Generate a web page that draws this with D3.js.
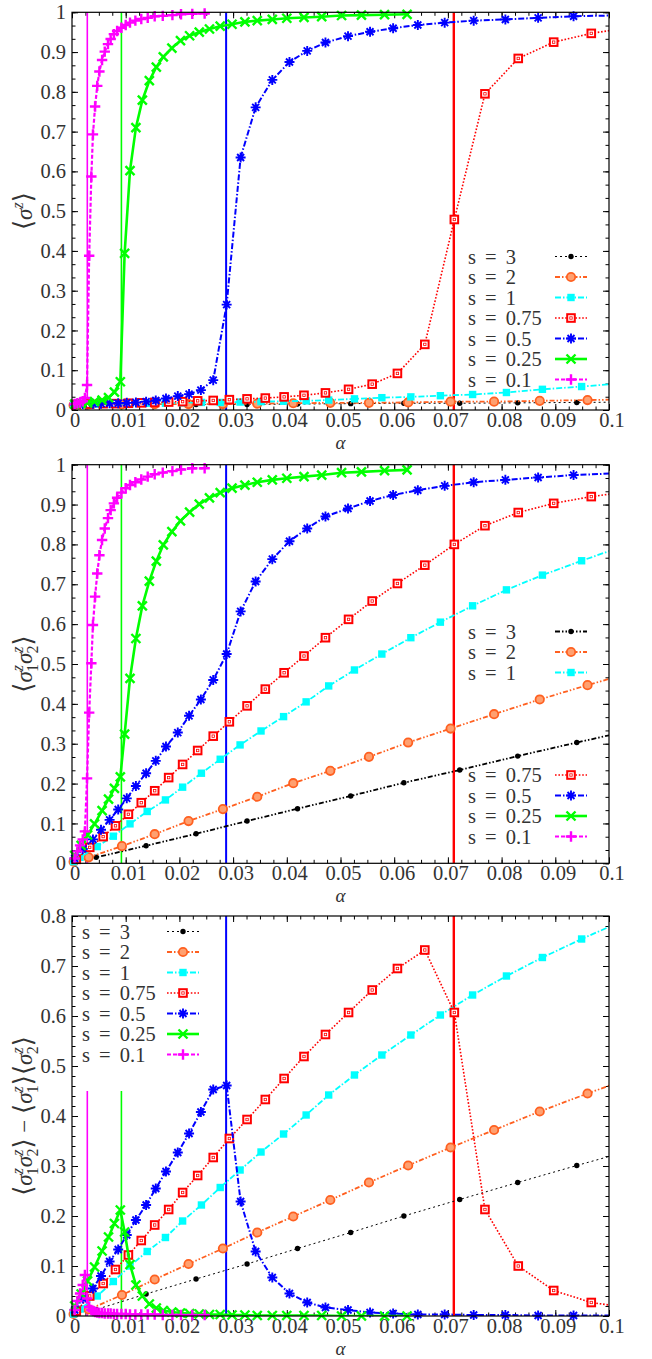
<!DOCTYPE html>
<html>
<head>
<meta charset="utf-8">
<script src="https://cdn.jsdelivr.net/npm/d3@7"></script>
<style>
  body { margin: 0; background: #fff; }
  svg text { font-family: "Liberation Serif", "DejaVu Serif", serif; }
</style>
</head>
<body>
<div id="chart"></div>
<script>
// alpha grid of each s (same points in the three panels)
const alphaS3 = [0.0003, 0.0045, 0.0138, 0.0231, 0.0326, 0.0420, 0.0519, 0.0618, 0.0722, 0.0830, 0.0940, 0.1050];
const alphaS2 = [0.0003, 0.0031, 0.0093, 0.0154, 0.0217, 0.0281, 0.0345, 0.0412, 0.0481, 0.0553, 0.0626, 0.0705, 0.0786, 0.0871, 0.0960, 0.1050];
const alphaS1 = [0.0003, 0.0015, 0.0047, 0.0077, 0.0108, 0.0140, 0.0174, 0.0206, 0.0241, 0.0276, 0.0313, 0.0352, 0.0394, 0.0436, 0.0478, 0.0526, 0.0577, 0.0631, 0.0686, 0.0746, 0.0809, 0.0876, 0.0949, 0.1025];
const alphaS075 = [0.0008, 0.0033, 0.0058, 0.0081, 0.0105, 0.0129, 0.0154, 0.0180, 0.0206, 0.0234, 0.0263, 0.0293, 0.0326, 0.0360, 0.0395, 0.0432, 0.0472, 0.0515, 0.0559, 0.0606, 0.0657, 0.0712, 0.0769, 0.0831, 0.0897, 0.0967, 0.1040];
const alphaS05 = [0.0005, 0.0020, 0.0039, 0.0054, 0.0070, 0.0086, 0.0102, 0.0119, 0.0138, 0.0156, 0.0175, 0.0197, 0.0218, 0.0240, 0.0263, 0.0288, 0.0314, 0.0342, 0.0373, 0.0405, 0.0438, 0.0472, 0.0514, 0.0555, 0.0598, 0.0644, 0.0694, 0.0748, 0.0807, 0.0868, 0.0934, 0.1005];
const alphaS025 = [0.0005, 0.0017, 0.0029, 0.0042, 0.0056, 0.0068, 0.0079, 0.0090, 0.0098, 0.0108, 0.0119, 0.0131, 0.0144, 0.0157, 0.0170, 0.0186, 0.0202, 0.0219, 0.0237, 0.0256, 0.0276, 0.0298, 0.0322, 0.0345, 0.0373, 0.0400, 0.0432, 0.0465, 0.0502, 0.0539, 0.0582, 0.0624];
const alphaS01 = [0.0005, 0.0010, 0.0015, 0.0020, 0.0024, 0.0028, 0.0032, 0.0036, 0.0039, 0.0043, 0.0047, 0.0051, 0.0056, 0.0061, 0.0067, 0.0072, 0.0078, 0.0084, 0.0092, 0.0100, 0.0108, 0.0118, 0.0129, 0.0141, 0.0154, 0.0169, 0.0187, 0.0203, 0.0224, 0.0247];

// panel 1: <sigma^z>
const szS3 = [0.012, 0.013, 0.014, 0.014, 0.014, 0.015, 0.016, 0.017, 0.017, 0.018, 0.019, 0.020];
const szS2 = [0.012, 0.014, 0.014, 0.015, 0.015, 0.015, 0.016, 0.017, 0.018, 0.018, 0.019, 0.021, 0.021, 0.023, 0.025, 0.027];
const szS1 = [0.012, 0.014, 0.015, 0.015, 0.016, 0.017, 0.017, 0.018, 0.019, 0.019, 0.020, 0.021, 0.022, 0.023, 0.025, 0.028, 0.031, 0.033, 0.036, 0.039, 0.044, 0.052, 0.059, 0.067];
const szS075 = [0.014, 0.015, 0.016, 0.016, 0.017, 0.018, 0.019, 0.020, 0.021, 0.023, 0.024, 0.026, 0.028, 0.030, 0.033, 0.037, 0.043, 0.052, 0.065, 0.092, 0.165, 0.479, 0.795, 0.884, 0.925, 0.947, 0.962];
const szS05 = [0.014, 0.015, 0.016, 0.016, 0.017, 0.017, 0.018, 0.019, 0.021, 0.024, 0.029, 0.035, 0.040, 0.050, 0.075, 0.265, 0.635, 0.761, 0.830, 0.875, 0.903, 0.924, 0.940, 0.951, 0.960, 0.968, 0.974, 0.979, 0.982, 0.986, 0.990, 0.992];
const szS025 = [0.015, 0.016, 0.018, 0.021, 0.025, 0.031, 0.045, 0.071, 0.394, 0.602, 0.710, 0.779, 0.828, 0.862, 0.888, 0.910, 0.929, 0.941, 0.950, 0.958, 0.965, 0.970, 0.976, 0.979, 0.982, 0.985, 0.987, 0.989, 0.992, 0.993, 0.994, 0.995];
const szS01 = [0.015, 0.017, 0.019, 0.022, 0.030, 0.063, 0.388, 0.587, 0.693, 0.763, 0.815, 0.851, 0.880, 0.901, 0.920, 0.933, 0.945, 0.953, 0.961, 0.968, 0.974, 0.979, 0.983, 0.986, 0.990, 0.991, 0.993, 0.995, 0.996, 0.997];

// panel 2: <sigma1^z sigma2^z>
const corrS3 = [0.005, 0.015, 0.044, 0.074, 0.106, 0.137, 0.169, 0.202, 0.234, 0.269, 0.303, 0.336];
const corrS2 = [0.004, 0.015, 0.043, 0.073, 0.106, 0.136, 0.167, 0.201, 0.232, 0.267, 0.303, 0.338, 0.374, 0.411, 0.447, 0.482];
const corrS1 = [0.004, 0.015, 0.042, 0.068, 0.099, 0.130, 0.159, 0.191, 0.226, 0.261, 0.297, 0.332, 0.368, 0.405, 0.445, 0.485, 0.525, 0.566, 0.605, 0.646, 0.686, 0.723, 0.759, 0.795];
const corrS075 = [0.010, 0.040, 0.067, 0.094, 0.123, 0.152, 0.182, 0.215, 0.248, 0.283, 0.319, 0.355, 0.395, 0.437, 0.478, 0.520, 0.566, 0.612, 0.658, 0.702, 0.748, 0.800, 0.847, 0.880, 0.903, 0.920, 0.933];
const corrS05 = [0.012, 0.036, 0.060, 0.084, 0.109, 0.135, 0.163, 0.194, 0.226, 0.257, 0.293, 0.328, 0.370, 0.411, 0.460, 0.525, 0.632, 0.707, 0.763, 0.808, 0.840, 0.870, 0.890, 0.909, 0.924, 0.936, 0.947, 0.956, 0.962, 0.968, 0.974, 0.978];
const corrS025 = [0.020, 0.045, 0.071, 0.099, 0.132, 0.161, 0.188, 0.217, 0.324, 0.464, 0.564, 0.646, 0.708, 0.758, 0.799, 0.832, 0.859, 0.881, 0.901, 0.917, 0.930, 0.941, 0.949, 0.956, 0.962, 0.966, 0.970, 0.974, 0.980, 0.982, 0.985, 0.987];
const corrS01 = [0.012, 0.030, 0.045, 0.060, 0.080, 0.213, 0.378, 0.502, 0.598, 0.669, 0.727, 0.773, 0.811, 0.840, 0.866, 0.886, 0.903, 0.917, 0.930, 0.941, 0.949, 0.956, 0.963, 0.970, 0.976, 0.980, 0.984, 0.988, 0.991, 0.991];

// panel 3: connected correlation
const connS3 = [0.005, 0.013, 0.044, 0.074, 0.104, 0.135, 0.167, 0.200, 0.233, 0.267, 0.301, 0.334];
const connS2 = [0.004, 0.013, 0.042, 0.073, 0.104, 0.135, 0.167, 0.199, 0.232, 0.267, 0.301, 0.337, 0.372, 0.409, 0.445, 0.480];
const connS1 = [0.004, 0.014, 0.040, 0.069, 0.100, 0.129, 0.157, 0.190, 0.222, 0.257, 0.292, 0.328, 0.364, 0.402, 0.442, 0.482, 0.522, 0.562, 0.602, 0.642, 0.680, 0.717, 0.754, 0.790];
const connS075 = [0.010, 0.040, 0.065, 0.093, 0.122, 0.151, 0.182, 0.213, 0.247, 0.281, 0.317, 0.355, 0.393, 0.433, 0.475, 0.519, 0.563, 0.607, 0.652, 0.695, 0.732, 0.607, 0.213, 0.100, 0.051, 0.027, 0.016];
const connS05 = [0.012, 0.035, 0.055, 0.080, 0.109, 0.133, 0.162, 0.192, 0.222, 0.255, 0.289, 0.327, 0.365, 0.408, 0.453, 0.461, 0.229, 0.129, 0.077, 0.045, 0.027, 0.017, 0.012, 0.007, 0.005, 0.003, 0.003, 0.002, 0.002, 0.001, 0.001, 0.001];
const connS025 = [0.020, 0.044, 0.070, 0.098, 0.130, 0.158, 0.185, 0.212, 0.168, 0.103, 0.062, 0.040, 0.024, 0.016, 0.011, 0.008, 0.006, 0.005, 0.004, 0.003, 0.003, 0.002, 0.002, 0.001, 0.001, 0.001, 0.001, 0.001, 0.000, 0.000, 0.000, 0.000];
const connS01 = [0.012, 0.030, 0.045, 0.062, 0.082, 0.035, 0.018, 0.012, 0.010, 0.008, 0.007, 0.006, 0.006, 0.005, 0.005, 0.005, 0.004, 0.004, 0.004, 0.004, 0.003, 0.003, 0.003, 0.003, 0.003, 0.002, 0.002, 0.002, 0.002, 0.002];

const sLabels = ["3", "2", "1", "0.75", "0.5", "0.25", "0.1"];
const sColors = ["#000000", "#ff6020", "#00ffff", "#ff0000", "#0000ff", "#00ff00", "#ff00ff"];
const alphas = [alphaS3, alphaS2, alphaS1, alphaS075, alphaS05, alphaS025, alphaS01];

// transition points (vertical lines)
const criticalAlpha = [0.00285, 0.0092, 0.0287, 0.0711];
const criticalColors = ["#ff00ff", "#00ff00", "#0000ff", "#ff0000"];
const criticalWidth = [1.6, 1.6, 2, 2.4];
const criticalTop3 = [0.45, 0.45, 0.8, 0.8];

const xTickLabels = ["0", "0.01", "0.02", "0.03", "0.04", "0.05", "0.06", "0.07", "0.08", "0.09", "0.1"];
const yTickLabels = ["0", "0.1", "0.2", "0.3", "0.4", "0.5", "0.6", "0.7", "0.8", "0.9", "1"];
const yTickLabels3 = ["0", "0.1", "0.2", "0.3", "0.4", "0.5", "0.6", "0.7", "0.8"];

const textColor = "#333";

const styles = [
  { marker: "dot", dash: "2,3", width: 1 },
  { marker: "circle", dash: "5,2,1.5,2,1.5,2", width: 1.8 },
  { marker: "fsquare", dash: "6,2,1.5,2", width: 1.8 },
  { marker: "osquare", dash: "1.6,1.8", width: 1.6 },
  { marker: "star", dash: "6,2,1.5,2", width: 2 },
  { marker: "cross", dash: null, width: 2.6 },
  { marker: "plus", dash: "4,2", width: 2.2 },
];

const panels = [
  {
    top: 12.3, bottom: 410, ymax: 1, ticks: yTickLabels, minor: 1 / 30,
    values: [szS3, szS2, szS1, szS075, szS05, szS025, szS01],
    legendX: 468, legendY0: 256.5, sampleX: [555, 587], rows: [0, 1, 2, 3, 4, 5, 6],
    vtop: [1, 1, 1, 1], label: "sz", s3: null,
  },
  {
    top: 464.7, bottom: 863.3, ymax: 1, ticks: yTickLabels, minor: 1 / 30,
    values: [corrS3, corrS2, corrS1, corrS075, corrS05, corrS025, corrS01],
    legendX: 468, legendY0: 631.5, sampleX: [555, 587], rows: [0, 1, 2, 7, 8, 9, 10],
    vtop: [1, 1, 1, 1], label: "corr", s3: { dash: "5,2,1.5,2,1.5,2", width: 1.8 },
  },
  {
    top: 916, bottom: 1316, ymax: 0.8, ticks: yTickLabels3, minor: 0.02,
    values: [connS3, connS2, connS1, connS075, connS05, connS025, connS01],
    legendX: 82, legendY0: 931.5, sampleX: [167, 199], rows: [0, 1, 2, 3, 4, 5, 6],
    vtop: criticalTop3, label: "conn", s3: null,
  },
];

const width = 652, height = 1359;
const x = d3.scaleLinear().domain([0, 0.1]).range([72, 609]);

const svg = d3.select("#chart").append("svg")
  .attr("width", width).attr("height", height);
svg.append("rect").attr("width", width).attr("height", height).attr("fill", "#fff");

function drawMarker(g, type, color) {
  if (type === "dot") {
    g.append("circle").attr("r", 2.7).attr("fill", color);
  } else if (type === "circle") {
    g.append("circle").attr("r", 4.2).attr("fill", "#ffa070")
      .attr("stroke", color).attr("stroke-width", 1.8);
  } else if (type === "fsquare") {
    g.append("rect").attr("x", -3.7).attr("y", -3.7).attr("width", 7.4).attr("height", 7.4).attr("fill", color);
  } else if (type === "osquare") {
    g.append("rect").attr("x", -3.8).attr("y", -3.8).attr("width", 7.6).attr("height", 7.6)
      .attr("fill", "#fff").attr("stroke", color).attr("stroke-width", 2);
    g.append("rect").attr("x", -1.2).attr("y", -1.2).attr("width", 2.4).attr("height", 2.4)
      .attr("fill", "none").attr("stroke", color).attr("stroke-width", 0.8);
  } else {
    const d = {
      star: "M-5,0H5M0,-5V5M-3.5,-3.5L3.5,3.5M-3.5,3.5L3.5,-3.5",
      cross: "M-4.5,-4.5L4.5,4.5M-4.5,4.5L4.5,-4.5",
      plus: "M-5.2,0H5.2M0,-5.2V5.2",
    }[type];
    g.append("path").attr("d", d).attr("stroke", color)
      .attr("stroke-width", type === "star" ? 1.9 : 2.4).attr("fill", "none");
  }
}

// <sigma> style label built from tspans (sub/superscripts)
function sigmaLabel(text, tokens) {
  let cur = 0;
  const put = (str, o = {}) => {
    const ts = text.append("tspan").text(str);
    const target = o.dy || 0;
    if (target - cur) ts.attr("dy", target - cur);
    cur = target;
    if (o.dx) ts.attr("dx", o.dx);
    if (o.size) ts.attr("font-size", o.size);
    if (o.italic) ts.attr("font-style", "italic");
  };
  tokens.forEach((t) => {
    if (t === "<") put("\u27E8", { size: 26 });
    else if (t === ">") put("\u27E9", { size: 26 });
    else if (t === "-") put(" \u2212 ");
    else {
      put("\u03C3", { italic: true });
      put("z", { italic: true, size: 16, dy: -9 });
      if (t.length > 1) put(t.slice(1), { size: 16, dy: 6, dx: -7 });
    }
  });
  put("");
}

panels.forEach((p, pi) => {
  const y = d3.scaleLinear().domain([0, p.ymax]).range([p.bottom, p.top]);
  const g = svg.append("g");

  const clipId = `clip${pi}`;
  svg.append("clipPath").attr("id", clipId)
    .append("rect").attr("x", x(0)).attr("y", p.top)
    .attr("width", x(0.1) - x(0)).attr("height", p.bottom - p.top);

  // axes, ticks pointing inwards on all four sides
  const xMajor = xTickLabels.map(Number);
  const xMinor = d3.range(0, 0.1001, 0.0025);
  const yMajor = p.ticks.map(Number);
  const yMinor = d3.range(0, p.ymax + 1e-6, p.minor);

  const axes = g.append("g").attr("color", "#000");
  axes.append("g").attr("transform", `translate(0,${p.bottom})`)
    .call(d3.axisBottom(x).tickValues(xMinor).tickSize(-3.5).tickFormat(""));
  const bottom = axes.append("g").attr("transform", `translate(0,${p.bottom})`)
    .call(d3.axisBottom(x).tickValues(xMajor).tickSize(-6).tickPadding(2.5)
      .tickFormat((d, i) => xTickLabels[i]));
  axes.append("g").attr("transform", `translate(0,${p.top})`)
    .call(d3.axisTop(x).tickValues(xMinor).tickSize(-3.5).tickFormat(""));
  axes.append("g").attr("transform", `translate(0,${p.top})`)
    .call(d3.axisTop(x).tickValues(xMajor).tickSize(-6).tickFormat(""));
  axes.append("g").attr("transform", `translate(${x(0)},0)`)
    .call(d3.axisLeft(y).tickValues(yMinor).tickSize(-3.5).tickFormat(""));
  const left = axes.append("g").attr("transform", `translate(${x(0)},0)`)
    .call(d3.axisLeft(y).tickValues(yMajor).tickSize(-6).tickPadding(6)
      .tickFormat((d, i) => p.ticks[i]));
  axes.append("g").attr("transform", `translate(${x(0.1)},0)`)
    .call(d3.axisRight(y).tickValues(yMinor).tickSize(-3.5).tickFormat(""));
  axes.append("g").attr("transform", `translate(${x(0.1)},0)`)
    .call(d3.axisRight(y).tickValues(yMajor).tickSize(-6).tickFormat(""));
  axes.selectAll(".domain").remove();
  axes.selectAll(".tick line").attr("stroke-width", 1);
  axes.selectAll("g").attr("font-family", null).attr("font-size", 20.5);
  bottom.selectAll("text").attr("fill", textColor).attr("dx", 2.5);
  left.selectAll("text").attr("fill", textColor);

  // vertical lines at the transitions
  const vl = g.append("g").attr("clip-path", `url(#${clipId})`);
  criticalAlpha.forEach((a, k) => {
    vl.append("line")
      .attr("x1", x(a)).attr("x2", x(a))
      .attr("y1", y(0)).attr("y2", y(p.vtop[k]))
      .attr("stroke", criticalColors[k]).attr("stroke-width", criticalWidth[k]);
  });

  // curves
  const line = d3.line().x((d) => x(d[0])).y((d) => y(d[1]));
  const curves = g.append("g");
  sLabels.forEach((s, k) => {
    const st = k === 0 && p.s3 ? { ...styles[0], ...p.s3 } : styles[k];
    const data = alphas[k].map((a, j) => [a, p.values[k][j]]);
    curves.append("path")
      .attr("clip-path", `url(#${clipId})`)
      .attr("d", line(data))
      .attr("fill", "none")
      .attr("stroke", sColors[k])
      .attr("stroke-width", st.width)
      .attr("stroke-dasharray", st.dash);
    curves.append("g").selectAll("g")
      .data(data.filter((d) => d[0] <= 0.1))
      .join("g")
      .attr("transform", (d) => `translate(${x(d[0])},${y(d[1])})`)
      .each(function () { drawMarker(d3.select(this), st.marker, sColors[k]); });
  });

  // frame
  g.append("rect")
    .attr("x", x(0)).attr("y", p.top)
    .attr("width", x(0.1) - x(0)).attr("height", p.bottom - p.top)
    .attr("fill", "none").attr("stroke", "#000").attr("stroke-width", 1.2);

  // legend
  const leg = g.append("g");
  sLabels.forEach((s, k) => {
    const st = k === 0 && p.s3 ? { ...styles[0], ...p.s3 } : styles[k];
    const ry = p.legendY0 + p.rows[k] * 20.5;
    leg.append("text")
      .attr("x", p.legendX).attr("y", ry).attr("dy", "0.35em")
      .attr("font-size", 20.5).attr("fill", textColor)
      .attr("word-spacing", 4)
      .text(`s = ${s}`);
    leg.append("line")
      .attr("x1", p.sampleX[0]).attr("x2", p.sampleX[1])
      .attr("y1", ry).attr("y2", ry)
      .attr("stroke", sColors[k]).attr("stroke-width", st.width)
      .attr("stroke-dasharray", st.dash);
    const m = leg.append("g")
      .attr("transform", `translate(${(p.sampleX[0] + p.sampleX[1]) / 2},${ry})`);
    drawMarker(m, st.marker, sColors[k]);
  });

  // axis titles
  g.append("text")
    .attr("x", (x(0) + x(0.1)) / 2).attr("y", p.bottom + 38.5)
    .attr("text-anchor", "middle").attr("font-size", 19)
    .attr("font-style", "italic").attr("fill", textColor)
    .text("\u03B1");

  const yl = g.append("text")
    .attr("transform", `translate(32,${(p.top + p.bottom) / 2}) rotate(-90)`)
    .attr("text-anchor", "middle").attr("font-size", 23).attr("fill", textColor);
  if (p.label === "sz") sigmaLabel(yl, ["<", "s", ">"]);
  else if (p.label === "corr") sigmaLabel(yl, ["<", "s1", "s2", ">"]);
  else sigmaLabel(yl, ["<", "s1", "s2", ">", "-", "<", "s1", ">", "<", "s2", ">"]);
});
</script>
</body>
</html>
